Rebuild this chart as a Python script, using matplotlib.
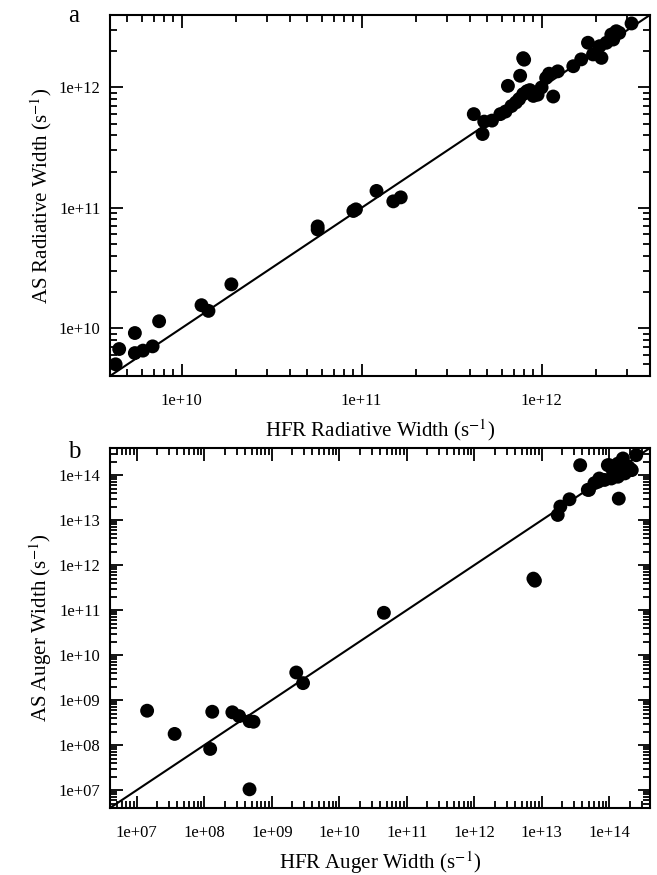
import matplotlib
matplotlib.use("Agg")
import matplotlib.pyplot as plt
import numpy as np
from matplotlib.ticker import LogLocator, FuncFormatter, NullFormatter

plt.rcParams['font.family'] = ['Liberation Serif', 'DejaVu Serif']
plt.rcParams['mathtext.fontset'] = 'stix'

# panel a : radiative widths (s^-1)
rad_hfr = [4.3e9, 4.5e9, 5.5e9, 5.5e9, 6.1e9, 6.9e9, 7.5e9, 1.29e10, 1.41e10, 1.89e10,
           5.7e10, 5.7e10, 9.0e10, 9.3e10, 1.21e11, 1.5e11, 1.65e11,
           4.2e11, 4.7e11, 4.8e11, 5.3e11, 5.9e11, 6.3e11, 6.5e11, 6.8e11, 7.2e11,
           7.5e11, 7.6e11, 7.9e11, 8.0e11, 7.9e11, 8.3e11, 8.6e11, 9.0e11, 9.5e11,
           1.0e12, 1.06e12, 1.1e12, 1.16e12, 1.23e12, 1.5e12, 1.66e12, 1.81e12,
           1.93e12, 2.1e12, 2.15e12, 2.29e12, 2.44e12, 2.5e12, 2.6e12, 2.7e12, 3.16e12]
rad_as = [5.0e9, 6.7e9, 9.1e9, 6.2e9, 6.5e9, 7.05e9, 1.14e10, 1.55e10, 1.39e10, 2.31e10,
          7.0e10, 6.6e10, 9.4e10, 9.7e10, 1.38e11, 1.13e11, 1.22e11,
          6.0e11, 4.1e11, 5.2e11, 5.3e11, 6.0e11, 6.3e11, 1.03e12, 7.0e11, 7.5e11,
          8.0e11, 1.25e12, 1.75e12, 1.7e12, 8.8e11, 9.3e11, 9.5e11, 8.5e11, 8.7e11,
          1.0e12, 1.2e12, 1.3e12, 8.4e11, 1.36e12, 1.5e12, 1.71e12, 2.35e12,
          1.88e12, 2.2e12, 1.76e12, 2.35e12, 2.75e12, 2.5e12, 2.93e12, 2.84e12, 3.4e12]

# panel b : Auger widths (s^-1)
aug_hfr = [1.42e7, 3.63e7, 1.22e8, 1.31e8, 2.6e8, 3.28e8, 4.67e8, 5.35e8, 4.67e8,
           2.3e9, 2.9e9, 4.57e10, 7.5e12, 7.9e12, 1.72e13, 1.88e13, 2.57e13, 3.7e13,
           4.8e13, 5.0e13, 6.0e13, 6.8e13, 7.1e13, 8.5e13, 9.5e13, 1.0e14, 1.07e14,
           1.12e14, 1.34e14, 1.34e14, 1.38e14, 1.59e14, 1.7e14, 1.9e14, 2.0e14,
           2.15e14, 2.5e14]
aug_as = [5.8e8, 1.77e8, 8.2e7, 5.5e8, 5.35e8, 4.4e8, 3.4e8, 3.3e8, 1.04e7,
          4.1e9, 2.38e9, 8.7e10, 5.0e11, 4.5e11, 1.3e13, 2.0e13, 2.9e13, 1.66e14,
          4.7e13, 4.7e13, 6.6e13, 7.1e13, 8.4e13, 7.8e13, 1.66e14, 1.66e14, 8.4e13,
          1.29e14, 1.8e14, 9.2e13, 3.0e13, 2.34e14, 1.09e14, 1.53e14, 1.4e14,
          1.29e14, 2.77e14]

lim_a = [4e9, 4e12]
lim_b = [4e6, 4e14]

fig = plt.figure(figsize=(6.57, 8.75), dpi=100)
ax1 = fig.add_axes([0.1674, 0.5703, 0.8219, 0.4126])
ax2 = fig.add_axes([0.1674, 0.0766, 0.8219, 0.4114])


def make_fmt(lim):
    # label only the decades inside the axis range
    return FuncFormatter(lambda v, p: "%.0e" % v if lim[0] <= v <= lim[1] else "")


for ax, x, y, lim in [(ax1, rad_hfr, rad_as, lim_a), (ax2, aug_hfr, aug_as, lim_b)]:
    ax.set_xscale('log')
    ax.set_yscale('log')
    ax.plot(lim, lim, color='black', lw=1.5, zorder=2)
    ax.scatter(x, y, s=100, color='black', edgecolors='none', zorder=3)
    ax.set_xlim(lim)
    ax.set_ylim(lim)
    for axis in [ax.xaxis, ax.yaxis]:
        axis.set_major_locator(LogLocator(base=10, numticks=50))
        axis.set_minor_locator(LogLocator(base=10, subs=np.arange(2, 10), numticks=200))
        axis.set_major_formatter(make_fmt(lim))
        axis.set_minor_formatter(NullFormatter())
    ax.tick_params(which='both', direction='in', top=True, right=True, labelsize=12, width=1.3)
    ax.tick_params(which='major', length=9)
    ax.tick_params(which='minor', length=5)
    ax.tick_params(axis='x', which='major', pad=12)
    ax.tick_params(axis='y', which='major', pad=7)
    for s in ax.spines.values():
        s.set_linewidth(1.5)

ax1.set_xlabel("HFR Radiative Width (s$^{-1}$)", fontsize=15, labelpad=6)
ax1.set_ylabel("AS Radiative Width (s$^{-1}$)", fontsize=15, labelpad=3)
ax2.set_xlabel("HFR Auger Width (s$^{-1}$)", fontsize=15, labelpad=6)
ax2.set_ylabel("AS Auger Width (s$^{-1}$)", fontsize=15, labelpad=3)

fig.text(68 / 657, 1 - 16 / 875, "a", fontsize=18, ha='left', va='center')
fig.text(68 / 657, 1 - 452 / 875, "b", fontsize=18, ha='left', va='center')

fig.savefig("out.png", dpi=100)
